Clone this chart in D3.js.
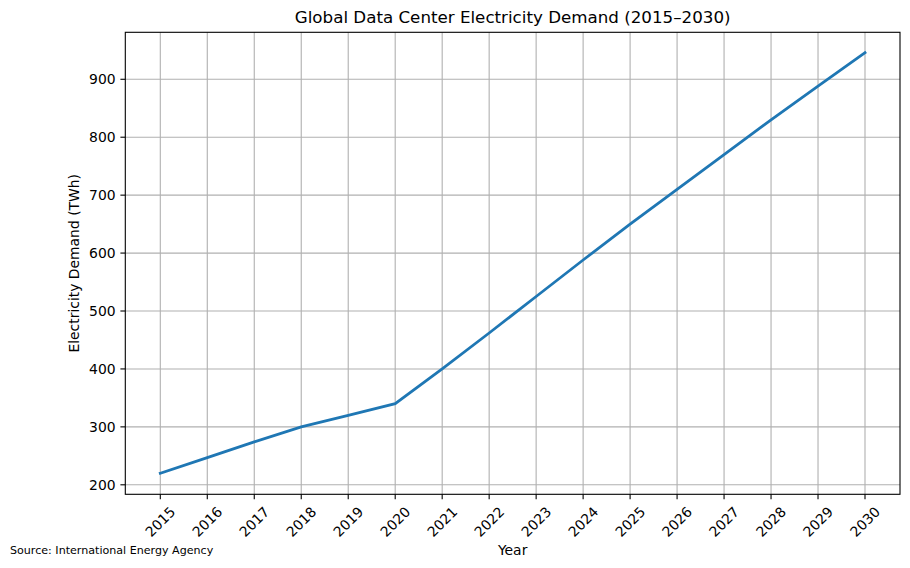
<!DOCTYPE html>
<html lang="en">
  <head>
    <meta charset="utf-8" />
    <title>Global Data Center Electricity Demand</title>
    <script src="https://d3js.org/d3.v7.min.js"></script>
    <style>
      body {
        margin: 0;
        background: #fff;
      }
      svg text {
        font-family: "DejaVu Sans", sans-serif;
        fill: #000;
      }
    </style>
  </head>
  <body>
    <svg id="chart" width="910" height="568"></svg>
    <script>
      // values (TWh)
      const years = [2015, 2016, 2017, 2018, 2019, 2020, 2021, 2022, 2023, 2024, 2025, 2026, 2027, 2028, 2029, 2030];
      const demand = [220, 247, 274, 300, 320, 340, 400, 462, 525, 588, 650, 710, 770, 830, 888, 946];
      const yTicks = [200, 300, 400, 500, 600, 700, 800, 900];

      const svg = d3.select("#chart");
      const plotLeft = 125.3, plotRight = 900, plotTop = 32.3, plotBottom = 494.3;

      const x = d3.scaleLinear().domain([2014.255, 2030.745]).range([plotLeft, plotRight]);
      const y = d3.scaleLinear().domain([183.6, 981.1]).range([plotBottom, plotTop]);

      // grid
      const grid = svg.append("g").attr("stroke", "#b0b0b0").attr("stroke-width", 1.1);
      grid.selectAll(".gx").data(years).enter().append("line")
        .attr("x1", d => x(d)).attr("x2", d => x(d))
        .attr("y1", plotTop).attr("y2", plotBottom);
      grid.selectAll(".gy").data(yTicks).enter().append("line")
        .attr("x1", plotLeft).attr("x2", plotRight)
        .attr("y1", d => y(d)).attr("y2", d => y(d));

      // line
      const line = d3.line().x((d, i) => x(years[i])).y(d => y(d));
      svg.append("path")
        .datum(demand)
        .attr("d", line)
        .attr("fill", "none")
        .attr("stroke", "#1f77b4")
        .attr("stroke-width", 2.78)
        .attr("stroke-linecap", "square");

      // frame
      svg.append("rect")
        .attr("x", plotLeft).attr("y", plotTop)
        .attr("width", plotRight - plotLeft).attr("height", plotBottom - plotTop)
        .attr("fill", "none").attr("stroke", "#000").attr("stroke-width", 1.1);

      // x axis ticks
      const xAxis = svg.append("g");
      xAxis.selectAll("line").data(years).enter().append("line")
        .attr("x1", d => x(d)).attr("x2", d => x(d))
        .attr("y1", plotBottom).attr("y2", plotBottom + 4.9)
        .attr("stroke", "#000").attr("stroke-width", 1.1);
      xAxis.selectAll("text").data(years).enter().append("text")
        .attr("transform", d => `translate(${x(d)},${plotBottom + 27.5}) rotate(-45)`)
        .attr("text-anchor", "middle")
        .attr("dominant-baseline", "central")
        .attr("font-size", 13.9)
        .text(d => d);

      // y axis ticks
      const yAxis = svg.append("g");
      yAxis.selectAll("line").data(yTicks).enter().append("line")
        .attr("x1", plotLeft - 4.9).attr("x2", plotLeft)
        .attr("y1", d => y(d)).attr("y2", d => y(d))
        .attr("stroke", "#000").attr("stroke-width", 1.1);
      yAxis.selectAll("text").data(yTicks).enter().append("text")
        .attr("x", plotLeft - 9.7)
        .attr("y", d => y(d))
        .attr("text-anchor", "end")
        .attr("dominant-baseline", "central")
        .attr("font-size", 13.9)
        .text(d => d);

      // labels
      svg.append("text")
        .attr("x", (plotLeft + plotRight) / 2).attr("y", 23)
        .attr("text-anchor", "middle")
        .attr("font-size", 16.7)
        .text("Global Data Center Electricity Demand (2015–2030)");

      svg.append("text")
        .attr("x", (plotLeft + plotRight) / 2).attr("y", 555)
        .attr("text-anchor", "middle")
        .attr("font-size", 13.9)
        .text("Year");

      svg.append("text")
        .attr("transform", `translate(79,${(plotTop + plotBottom) / 2}) rotate(-90)`)
        .attr("text-anchor", "middle")
        .attr("font-size", 13.9)
        .text("Electricity Demand (TWh)");

      svg.append("text")
        .attr("x", 10).attr("y", 554)
        .attr("font-size", 11.1)
        .text("Source: International Energy Agency");
    </script>
  </body>
</html>
